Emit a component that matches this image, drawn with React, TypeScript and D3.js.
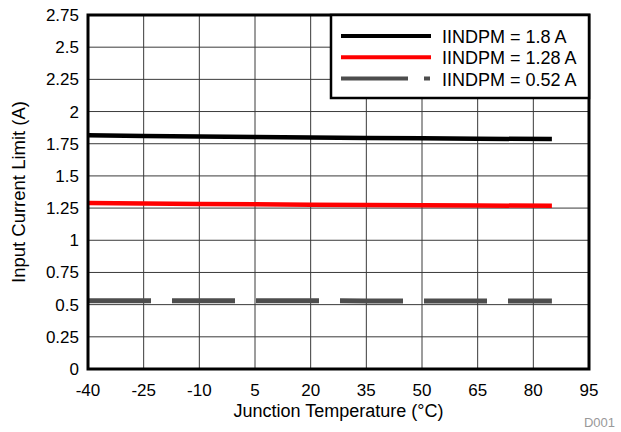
import React from "react";
import * as d3 from "d3";

// junction temperature (°C) at which each curve was sampled
const temps = [-40, -25, -10, 5, 20, 35, 50, 65, 85];
const limit18 = [1.815, 1.81, 1.806, 1.802, 1.798, 1.795, 1.792, 1.789, 1.786];
const limit128 = [1.29, 1.286, 1.282, 1.279, 1.276, 1.274, 1.272, 1.27, 1.268];
const limit052 = [0.531, 0.531, 0.53, 0.53, 0.53, 0.529, 0.529, 0.529, 0.529];

const xTicks = [-40, -25, -10, 5, 20, 35, 50, 65, 80, 95];
const yTicks = [0, 0.25, 0.5, 0.75, 1, 1.25, 1.5, 1.75, 2, 2.25, 2.5, 2.75];
const seriesLabels = ["IINDPM = 1.8 A", "IINDPM = 1.28 A", "IINDPM = 0.52 A"];

const W = 621;
const H = 432;
const m = { left: 88, right: 589, top: 15, bottom: 369 };
const font = "Liberation Sans, Arial, Helvetica, sans-serif";

const App = () => {
    const x = d3.scaleLinear().domain([-40, 95]).range([m.left, m.right]);
    const y = d3.scaleLinear().domain([0, 2.75]).range([m.bottom, m.top]);

    const line = d3
        .line<[number, number]>()
        .x(d => x(d[0]))
        .y(d => y(d[1]));

    const series = [
        { values: limit18, color: "#000", width: 4.5, dash: null },
        { values: limit128, color: "#ff0000", width: 4.5, dash: null },
        { values: limit052, color: "#4d4d4d", width: 5, dash: "63,21" },
    ];

    return (
        <svg
            width={W}
            height={H}
            style={{ position: "absolute", left: 0, top: 0, background: "#fff" }}
            fontFamily={font}
        >
            <g className="grid" stroke="#3a3a3a" strokeWidth={1}>
                {xTicks.map(t => (
                    <line key={t} x1={x(t)} x2={x(t)} y1={m.top} y2={m.bottom} />
                ))}
                {yTicks.map(t => (
                    <line key={t} x1={m.left} x2={m.right} y1={y(t)} y2={y(t)} />
                ))}
            </g>

            {series.map((s, i) => (
                <path
                    key={i}
                    d={line(temps.map((t, j) => [t, s.values[j]]))!}
                    fill="none"
                    stroke={s.color}
                    strokeWidth={s.width}
                    strokeDasharray={s.dash || undefined}
                />
            ))}

            <rect
                x={m.left}
                y={m.top}
                width={m.right - m.left}
                height={m.bottom - m.top}
                fill="none"
                stroke="#000"
                strokeWidth={3}
            />

            <g className="legend">
                <rect x={331} y={m.top} width={m.right - 331} height={83} fill="#fff" stroke="#000" strokeWidth={2.5} />
                {seriesLabels.map((label, i) => (
                    <g key={label} transform={`translate(0, ${36 + i * 21.3})`}>
                        <line
                            x1={341}
                            x2={431}
                            y1={0}
                            y2={0}
                            stroke={series[i].color}
                            strokeWidth={4}
                            strokeDasharray={i === 2 ? "67,16,6,100" : undefined}
                        />
                        <text x={442} y={7} fontSize={18} fill="#000">
                            {label}
                        </text>
                    </g>
                ))}
            </g>

            <g className="y-axis" fontSize={17} textAnchor="end">
                {yTicks.map(t => (
                    <text key={t} x={79} y={y(t) + 6}>
                        {d3.format("~g")(t)}
                    </text>
                ))}
            </g>
            <g className="x-axis" fontSize={17} textAnchor="middle">
                {xTicks.map(t => (
                    <text key={t} x={x(t)} y={396}>
                        {t}
                    </text>
                ))}
            </g>

            <text x={(m.left + m.right) / 2} y={417} textAnchor="middle" fontSize={18}>
                Junction Temperature (°C)
            </text>
            <text
                transform={`translate(25, ${(m.top + m.bottom) / 2}) rotate(-90)`}
                textAnchor="middle"
                fontSize={18.5}
            >
                Input Current Limit (A)
            </text>
            <text x={615} y={427} textAnchor="end" fontSize={13} fill="#999">
                D001
            </text>
        </svg>
    );
};

export default App;
